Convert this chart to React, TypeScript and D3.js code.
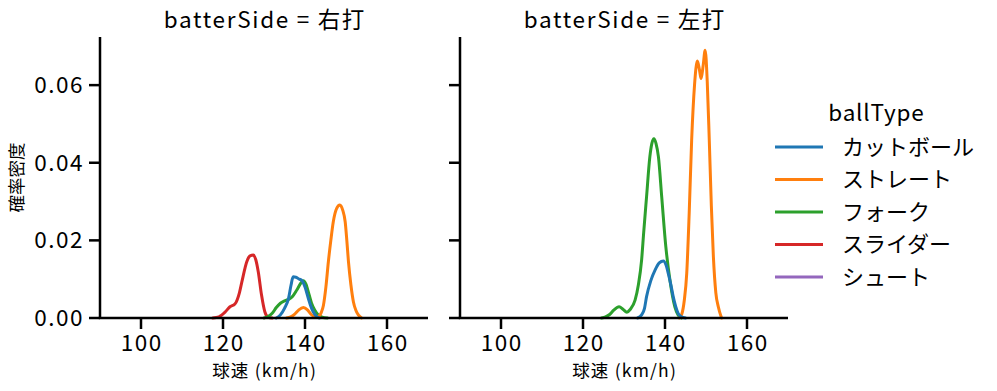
import React from 'react';
import * as d3 from 'd3';

const panels = ['右打', '左打'];
const ballTypes = ['カットボール', 'ストレート', 'フォーク', 'スライダー', 'シュート'];
const colors = ['#1f77b4', '#ff7f0e', '#2ca02c', '#d62728', '#9467bd'];
const xTicks = [100, 120, 140, 160];
const yTicks = [0, 0.02, 0.04, 0.06];

// 右打 (right-handed batters): [speed km/h, density]
const rCut: [number, number][] = [
  [133, 0], [134, 0.0008], [135, 0.0025], [136, 0.0051], [136.6, 0.0085], [137.1, 0.0106],
  [137.8, 0.0105], [138.6, 0.01], [139.2, 0.0097], [140, 0.008], [140.8, 0.0051], [141.5, 0.0028],
  [142, 0.0016], [142.8, 0.0004], [143.5, 0],
];
const rStraight: [number, number][] = [
  [135.5, 0], [136.5, 0.0003], [137.5, 0.001], [138.5, 0.0021], [139.6, 0.0027], [140.6, 0.0021],
  [141.5, 0.0009], [142.5, 0.0003], [143.2, 0.0004], [144, 0.0015], [144.5, 0.0033], [145.1, 0.008],
  [145.7, 0.0145], [146.3, 0.02], [146.9, 0.0248], [147.7, 0.0282], [148.5, 0.0291], [149.2, 0.0278],
  [149.8, 0.0248], [150.2, 0.02], [150.6, 0.0145], [151.2, 0.0085], [151.8, 0.0042], [152.4, 0.002],
  [153, 0.0008], [153.8, 0],
];
const rFork: [number, number][] = [
  [130, 0], [131, 0.0004], [132, 0.0012], [133, 0.0027], [134, 0.0038], [135, 0.0044], [136, 0.0048],
  [137, 0.0056], [138, 0.0072], [139, 0.009], [139.6, 0.0096], [140.2, 0.0088], [141, 0.006],
  [141.6, 0.0038], [142.4, 0.002], [143.2, 0.0008], [144.2, 0.0002], [145.5, 0],
];
const rSlider: [number, number][] = [
  [117.5, 0], [119, 0.0003], [120.5, 0.0015], [121.7, 0.0029], [122.9, 0.0036], [124, 0.0065],
  [124.6, 0.0093], [125.8, 0.0145], [126.6, 0.016], [127.4, 0.0162], [128, 0.015], [128.6, 0.0119],
  [129.4, 0.0059], [130.2, 0.0016], [131, 0.0002], [132, 0],
];

// 左打 (left-handed batters)
const lCut: [number, number][] = [
  [133.3, 0], [134.3, 0.0008], [135, 0.0025], [135.5, 0.0055], [136.5, 0.0095], [137.6, 0.0124],
  [138.6, 0.0142], [139.6, 0.0147], [140.3, 0.0135], [140.8, 0.0115], [141.5, 0.0082], [142, 0.0055],
  [142.6, 0.003], [143.2, 0.0012], [144, 0.0003], [145, 0],
];
const lStraight: [number, number][] = [
  [143.5, 0], [144.1, 0.001], [144.7, 0.0045], [145.3, 0.0115], [145.9, 0.027], [146.5, 0.0458],
  [147.2, 0.06], [147.9, 0.0662], [148.4, 0.064], [148.8, 0.0617], [149.3, 0.065], [149.8, 0.069],
  [150.3, 0.061], [150.8, 0.0458], [151.3, 0.029], [151.8, 0.0158], [152.4, 0.0065], [153, 0.0029],
  [153.8, 0],
];
const lFork: [number, number][] = [
  [124.5, 0], [125.5, 0.0003], [126.5, 0.0009], [127.5, 0.002], [128.8, 0.0029], [129.8, 0.0022],
  [130.7, 0.0015], [131.5, 0.0022], [132.7, 0.0046], [133.5, 0.0085], [134.3, 0.015], [134.8, 0.022],
  [135.5, 0.0312], [136.3, 0.0415], [136.8, 0.045], [137.3, 0.0462], [137.8, 0.045], [138.4, 0.0415],
  [139.2, 0.0312], [140.2, 0.0184], [141.2, 0.0098], [142.4, 0.0029], [143.2, 0.0008], [144, 0],
];

const panelSeries: ([number, number][] | null)[][] = [
  [rCut, rStraight, rFork, rSlider, null],
  [lCut, lStraight, lFork, null, null],
];

const W = 997;
const H = 391;
const FONT = '"Noto Sans CJK JP", "Noto Sans", sans-serif';
const panelLeft = [100, 460];
const panelWidth = 328;
const top = 37;
const bottom = 318;

export default function App() {
  const y = d3.scaleLinear().domain([0, 0.0724]).range([bottom, top]);
  return (
    <svg width={W} height={H} style={{ position: 'absolute', left: 0, top: 0, background: '#fff' }}
      fontFamily={FONT}>
      <rect width={W} height={H} fill="#fff" />
      {panels.map((p, pi) => {
        const x = d3.scaleLinear().domain([90, 170]).range([panelLeft[pi], panelLeft[pi] + panelWidth]);
        const line = d3.line<[number, number]>().x(d => x(d[0])).y(d => y(d[1])).curve(d3.curveMonotoneX);
        const series = panelSeries[pi];
        const order = ballTypes.map((_, i) => i).reverse();
        return (
          <g key={p}>
            {order.map(i => series[i] ? (
              <path key={i} d={line(series[i]!) || ''} fill="none" stroke={colors[i]} strokeWidth={3}
                strokeLinejoin="round" strokeLinecap="round" />
            ) : null)}
            <line x1={panelLeft[pi]} x2={panelLeft[pi]} y1={top} y2={bottom} stroke="#000" strokeWidth={2.5} />
            <line x1={panelLeft[pi] - 1.25} x2={panelLeft[pi] + panelWidth} y1={bottom} y2={bottom} stroke="#000" strokeWidth={2.5} />
            {xTicks.map(t => (
              <g key={t}>
                <line x1={x(t)} x2={x(t)} y1={bottom} y2={bottom + 11} stroke="#000" strokeWidth={2.5} />
                <text x={x(t)} y={bottom + 33} dx={0.75} textAnchor="middle" fontSize={22.5} letterSpacing={1.5} fill="#000">{t}</text>
              </g>
            ))}
            {yTicks.map(t => (
              <g key={t}>
                <line x1={panelLeft[pi] - 11} x2={panelLeft[pi]} y1={y(t)} y2={y(t)} stroke="#000" strokeWidth={2.5} />
                {pi === 0 ? (
                  <text x={panelLeft[pi] - 16} y={y(t)} dy="0.35em" textAnchor="end" fontSize={22.5} letterSpacing={1.5} fill="#000">
                    {t.toFixed(2)}
                  </text>
                ) : null}
              </g>
            ))}
            <text x={panelLeft[pi] + panelWidth / 2} y={377} dx={0.6} textAnchor="middle" fontSize={17.5} letterSpacing={1.2} fill="#000">
              球速 (km/h)
            </text>
            <text x={panelLeft[pi] + panelWidth / 2} y={28} dx={0.9} textAnchor="middle" fontSize={22.5} letterSpacing={1.7} fill="#000">
              {`batterSide = ${p}`}
            </text>
          </g>
        );
      })}
      <text transform={`translate(23, ${(top + bottom) / 2}) rotate(-90)`} textAnchor="middle" fontSize={17.5} fill="#000">
        確率密度
      </text>
      <g>
        <text x={876} y={113} dx={0.4} dy="0.35em" textAnchor="middle" fontSize={22.5} letterSpacing={0.8} fill="#000">ballType</text>
        {ballTypes.map((b, i) => (
          <g key={b}>
            <line x1={775} x2={823} y1={147 + i * 32.5} y2={147 + i * 32.5} stroke={colors[i]} strokeWidth={3} />
            <text x={842} y={147 + i * 32.5} dy="0.35em" fontSize={22} fill="#000">{b}</text>
          </g>
        ))}
      </g>
    </svg>
  );
}
